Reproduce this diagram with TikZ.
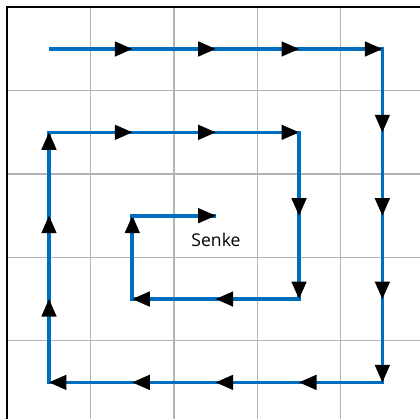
\documentclass[tikz,border=0pt]{standalone}
\usepackage{fontspec}
\setmainfont{Open Sans}
\usetikzlibrary{arrows.meta}
\definecolor{flowblue}{RGB}{0,110,190}
\definecolor{gridgray}{RGB}{180,180,180}
\tikzset{
  gridline/.style={draw=gridgray, line width=0.75pt},
  frameline/.style={draw=black, line width=1.2pt},
  flow/.style={draw=flowblue, line width=2.5pt, line join=miter},
  flowtip/.style={draw=flowblue, line width=2.5pt,
    -{Triangle[length=0.42cm, width=0.37cm, color=black, line width=0pt]}},
  label/.style={font=\fontsize{12}{14}\selectfont, inner sep=0pt}
}
\begin{document}
\begin{tikzpicture}[x=0.024cm, y=-0.024cm]
  \useasboundingbox (0,0) rectangle (420,419);
  \fill[white] (0,0) rectangle (420,419);
  \def\cell{83.35}
  \def\org{7.3}
  % grid
  \foreach \k in {1,...,4} {
    \draw[gridline] ({\org+\k*\cell},\org) -- ({\org+\k*\cell},419);
    \draw[gridline] (\org,{\org+\k*\cell}) -- (420,{\org+\k*\cell});
  }
  \draw[frameline] (\org,419) -- (\org,\org) -- (420,\org);
  % cell centres
  \foreach \i in {0,...,4} {
    \foreach \j in {0,...,4} {
      \coordinate (g-\i-\j) at ({\org+(\i+0.5)*\cell},{\org+(\j+0.5)*\cell});
    }
  }
  % spiral
  \draw[flow] (g-0-0) -- (g-4-0) -- (g-4-4) -- (g-0-4) -- (g-0-1) -- (g-3-1)
    -- (g-3-3) -- (g-1-3) -- (g-1-2) -- (g-2-2);
  % one arrowhead per cell step
  \foreach \a/\b in {0-0/1-0, 1-0/2-0, 2-0/3-0, 3-0/4-0,
                     4-0/4-1, 4-1/4-2, 4-2/4-3, 4-3/4-4,
                     4-4/3-4, 3-4/2-4, 2-4/1-4, 1-4/0-4,
                     0-4/0-3, 0-3/0-2, 0-2/0-1,
                     0-1/1-1, 1-1/2-1, 2-1/3-1,
                     3-1/3-2, 3-2/3-3,
                     3-3/2-3, 2-3/1-3,
                     1-3/1-2, 1-2/2-2} {
    \draw[flowtip] (g-\a) -- (g-\b);
  }
  \node[label] (senke) at (216,240) {Senke};
\end{tikzpicture}
\end{document}
